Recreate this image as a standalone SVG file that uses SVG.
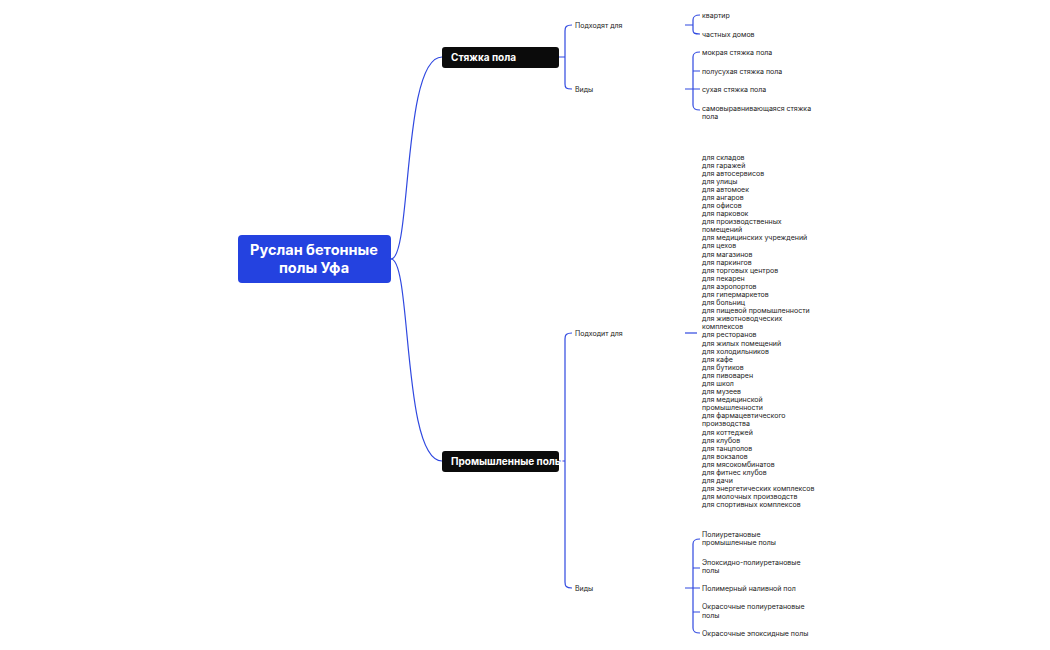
<svg xmlns="http://www.w3.org/2000/svg" width="1050" height="650" viewBox="0 0 1050 650">
<style>
.c{fill:none;stroke:#2f48e0;stroke-width:1.2}
.t{font-family:Inter,"Noto Sans",sans-serif;font-size:7px;fill:#222}
.l{font-family:Inter,"Noto Sans",sans-serif;font-size:7px;fill:#222}
.n{font-family:Inter,"Noto Sans",sans-serif;font-size:10px;font-weight:bold;fill:#fff}
</style>
<rect width="1050" height="650" fill="#fff"/>
<g id="connectors">
<path class="c" d="M391,259 C412,259 402,57 442,57"/>
<path class="c" d="M391,259 C412,259 402,461 442,461"/>
<path class="c" d="M559,57 H565 M572,25 C566,25 565,27 565,31 V84 C565,88 566,89 572,89"/>
<path class="c" d="M559,461 H565 M572,333 C566,333 565,335 565,339 V582 C565,586 566,588 572,588"/>
<path class="c" d="M685,25 H693 M700,15 C694,15 693,17 693,20 V30 C693,33 694,34 700,34"/>
<path class="c" d="M685,89 H700 M700,52 C694,52 693,54 693,57 V105 C693,108 694,110 700,110 M693,71 H700"/>
<path class="c" d="M685,333 H697"/>
<path class="c" d="M685,588 H700 M700,539 C694,539 693,541 693,544 V628 C693,631 694,633 700,633 M693,568 H700 M693,612 H700"/>
</g>
<g id="root"><rect x="238" y="235" width="153" height="48" rx="4" fill="#2442e0"/>
<text x="314" y="255" text-anchor="middle" font-family="Inter,'Noto Sans',sans-serif" font-size="14.5" font-weight="bold" fill="#fff">Руслан бетонные</text>
<text x="314" y="273" text-anchor="middle" font-family="Inter,'Noto Sans',sans-serif" font-size="14.5" font-weight="bold" fill="#fff">полы Уфа</text></g>
<g id="n1"><rect x="442" y="47" width="117" height="21" rx="3" fill="#0b0b0b"/><text class="n" x="451" y="61">Стяжка пола</text></g>
<g id="n2"><rect x="442" y="451" width="117" height="21" rx="3" fill="#0b0b0b"/><text class="n" x="451" y="465">Промышленные полы</text></g>
<g id="n1a"><text class="l" x="575" y="28">Подходят для</text></g>
<g id="n1b"><text class="l" x="575" y="92">Виды</text></g>
<g id="n2a"><text class="l" x="575" y="336">Подходит для</text></g>
<g id="n2b"><text class="l" x="575" y="591">Виды</text></g>
<g id="leaves1" class="t">
<text class="t" x="702" y="17.5">квартир</text>
<text class="t" x="702" y="36.5">частных домов</text>
<text class="t" x="702" y="54.5">мокрая стяжка пола</text>
<text class="t" x="702" y="73.5">полусухая стяжка пола</text>
<text class="t" x="702" y="91.5">сухая стяжка пола</text>
<text class="t" x="702" y="110.5">самовыравнивающаяся стяжка</text>
<text class="t" x="702" y="118.5">пола</text>
</g>
<g id="leaves2">
<text class="t" x="702" y="159.5">для складов<tspan x="702" dy="8.09">для гаражей</tspan><tspan x="702" dy="8.09">для автосервисов</tspan><tspan x="702" dy="8.09">для улицы</tspan><tspan x="702" dy="8.09">для автомоек</tspan><tspan x="702" dy="8.09">для ангаров</tspan><tspan x="702" dy="8.09">для офисов</tspan><tspan x="702" dy="8.09">для парковок</tspan><tspan x="702" dy="8.09">для производственных</tspan><tspan x="702" dy="8.09">помещений</tspan><tspan x="702" dy="8.09">для медицинских учреждений</tspan><tspan x="702" dy="8.09">для цехов</tspan><tspan x="702" dy="8.09">для магазинов</tspan><tspan x="702" dy="8.09">для паркингов</tspan><tspan x="702" dy="8.09">для торговых центров</tspan><tspan x="702" dy="8.09">для пекарен</tspan><tspan x="702" dy="8.09">для аэропортов</tspan><tspan x="702" dy="8.09">для гипермаркетов</tspan><tspan x="702" dy="8.09">для больниц</tspan><tspan x="702" dy="8.09">для пищевой промышленности</tspan><tspan x="702" dy="8.09">для животноводческих</tspan><tspan x="702" dy="8.09">комплексов</tspan><tspan x="702" dy="8.09">для ресторанов</tspan><tspan x="702" dy="8.09">для жилых помещений</tspan><tspan x="702" dy="8.09">для холодильников</tspan><tspan x="702" dy="8.09">для кафе</tspan><tspan x="702" dy="8.09">для бутиков</tspan><tspan x="702" dy="8.09">для пивоварен</tspan><tspan x="702" dy="8.09">для школ</tspan><tspan x="702" dy="8.09">для музеев</tspan><tspan x="702" dy="8.09">для медицинской</tspan><tspan x="702" dy="8.09">промышленности</tspan><tspan x="702" dy="8.09">для фармацевтического</tspan><tspan x="702" dy="8.09">производства</tspan><tspan x="702" dy="8.09">для коттеджей</tspan><tspan x="702" dy="8.09">для клубов</tspan><tspan x="702" dy="8.09">для танцполов</tspan><tspan x="702" dy="8.09">для вокзалов</tspan><tspan x="702" dy="8.09">для мясокомбинатов</tspan><tspan x="702" dy="8.09">для фитнес клубов</tspan><tspan x="702" dy="8.09">для дачи</tspan><tspan x="702" dy="8.09">для энергетических комплексов</tspan><tspan x="702" dy="8.09">для молочных производств</tspan><tspan x="702" dy="8.09">для спортивных комплексов</tspan></text>
</g>
<g id="leaves3">
<text class="t" x="702" y="536.5">Полиуретановые</text>
<text class="t" x="702" y="545">промышленные полы</text>
<text class="t" x="702" y="564.5">Эпоксидно-полиуретановые</text>
<text class="t" x="702" y="573">полы</text>
<text class="t" x="702" y="590.5">Полимерный наливной пол</text>
<text class="t" x="702" y="609">Окрасочные полиуретановые</text>
<text class="t" x="702" y="617.5">полы</text>
<text class="t" x="702" y="635.5">Окрасочные эпоксидные полы</text>
</g>
</svg>
